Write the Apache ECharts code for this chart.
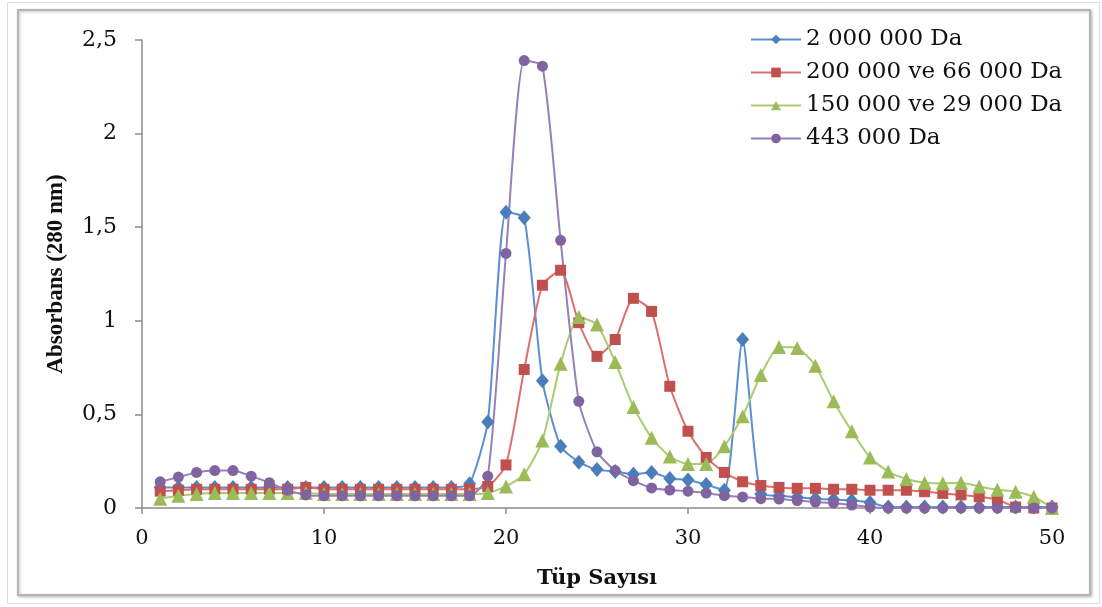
<!DOCTYPE html>
<html>
<head>
<meta charset="utf-8">
<script src="https://cdn.jsdelivr.net/npm/echarts@6/dist/echarts.min.js"></script>
<style>
  html, body { margin: 0; padding: 0; background: #fff; }
  #chart { width: 1102px; height: 607px; }
</style>
</head>
<body>
<div id="chart"></div>
<script>
// Tube numbers (x) and absorbance at 280 nm for each standard
const tubes = [1,2,3,4,5,6,7,8,9,10,11,12,13,14,15,16,17,18,19,20,21,22,23,24,25,
               26,27,28,29,30,31,32,33,34,35,36,37,38,39,40,41,42,43,44,45,46,47,48,49,50];

const da2000000 = [0.11,0.11,0.11,0.11,0.11,0.11,0.11,0.11,0.11,0.11,0.11,0.11,0.11,0.11,0.11,0.11,0.11,0.13,
                   0.46,1.58,1.55,0.68,0.33,0.245,0.205,0.195,0.18,0.19,0.158,0.15,0.125,0.095,0.90,0.075,
                   0.065,0.058,0.05,0.045,0.04,0.03,0.005,0.005,0.005,0.005,0.005,0.005,0.005,0.005,0.005,0.005];

const da200000_66000 = [0.09,0.095,0.1,0.1,0.1,0.1,0.1,0.1,0.11,0.1,0.1,0.1,0.1,0.1,0.1,0.1,0.1,0.1,
                        0.115,0.23,0.74,1.19,1.27,0.99,0.81,0.90,1.12,1.05,0.65,0.41,0.27,0.19,0.14,0.12,
                        0.11,0.105,0.105,0.1,0.1,0.095,0.095,0.095,0.087,0.078,0.07,0.06,0.045,0.005,0.0,0.0];

const da150000_29000 = [0.05,0.065,0.075,0.08,0.08,0.08,0.08,0.08,0.08,0.075,0.075,0.075,0.075,0.075,0.075,0.075,0.075,0.075,
                        0.08,0.115,0.18,0.36,0.77,1.02,0.98,0.78,0.54,0.375,0.275,0.235,0.235,0.33,0.49,0.71,
                        0.86,0.855,0.76,0.57,0.41,0.27,0.195,0.155,0.135,0.132,0.135,0.115,0.097,0.087,0.06,0.0];

const da443000 = [0.14,0.165,0.19,0.2,0.2,0.17,0.135,0.095,0.07,0.065,0.065,0.065,0.065,0.065,0.065,0.065,0.065,0.065,
                  0.17,1.36,2.39,2.36,1.43,0.57,0.30,0.2,0.146,0.107,0.096,0.09,0.08,0.066,0.059,0.05,
                  0.048,0.04,0.032,0.027,0.016,0.005,0,0,0,0,0,0,0,0,0,0];

const seriesNames = ['2 000 000 Da', '200 000 ve 66 000 Da', '150 000 ve 29 000 Da', '443 000 Da'];
const xTicks = [0, 10, 20, 30, 40, 50];
const yTicks = [0, 0.5, 1, 1.5, 2, 2.5];

const serifWide = 'DejaVu Serif';
const serif = 'Liberation Serif';

function pairs(values) {
  return tubes.map((t, i) => [t, values[i]]);
}

function lineSeries(name, values, lineColor, markColor, symbol, size) {
  return {
    name: name,
    type: 'line',
    data: pairs(values),
    smooth: 0.2,
    symbol: symbol,
    symbolSize: size,
    lineStyle: { color: lineColor, width: 2 },
    itemStyle: { color: markColor },
    emphasis: { disabled: true },
    z: 3
  };
}

const chart = echarts.init(document.getElementById('chart'), null, { renderer: 'canvas' });

chart.setOption({
  animation: false,
  backgroundColor: '#ffffff',
  graphic: [
    { type: 'rect', shape: { x: 7.5, y: 2.5, width: 1092, height: 601 },
      style: { fill: 'none', stroke: '#dcdcdc', lineWidth: 1 }, silent: true },
    { type: 'rect', shape: { x: 18, y: 10, width: 1072, height: 585 },
      style: { fill: '#ffffff', stroke: '#b5b5b5', lineWidth: 2,
               shadowColor: 'rgba(0,0,0,0.25)', shadowBlur: 3, shadowOffsetX: 1, shadowOffsetY: 1 },
      silent: true, z: -10 }
  ],
  grid: { left: 142, right: 50, top: 40, bottom: 99 },
  legend: {
    orient: 'vertical',
    left: 745,
    top: 23,
    itemWidth: 50,
    itemHeight: 12,
    itemGap: 10,
    textStyle: { fontFamily: serifWide, fontSize: 23, color: '#111' },
    data: seriesNames
  },
  xAxis: {
    type: 'value',
    min: xTicks[0],
    max: xTicks[xTicks.length - 1],
    interval: 10,
    name: 'Tüp Sayısı',
    nameLocation: 'middle',
    nameGap: 60,
    nameTextStyle: { fontFamily: serifWide, fontSize: 21, fontWeight: 'bold', color: '#111' },
    axisLine: { lineStyle: { color: '#8c8c8c', width: 1.5 } },
    axisTick: { show: true, inside: false, length: 6, lineStyle: { color: '#8c8c8c', width: 1.5 } },
    axisLabel: { fontFamily: serifWide, fontSize: 21, color: '#111', margin: 20 },
    splitLine: { show: false }
  },
  yAxis: {
    type: 'value',
    min: yTicks[0],
    max: yTicks[yTicks.length - 1],
    interval: 0.5,
    name: 'Absorbans (280 nm)',
    nameLocation: 'middle',
    nameRotate: 90,
    nameGap: 74,
    nameTextStyle: { fontFamily: serif, fontSize: 23, fontWeight: 'bold', color: '#111' },
    axisLine: { show: true, lineStyle: { color: '#8c8c8c', width: 1.5 } },
    axisTick: { show: true, inside: false, length: 7, lineStyle: { color: '#8c8c8c', width: 1.5 } },
    axisLabel: {
      fontFamily: serifWide, fontSize: 22, color: '#111', margin: 25,
      formatter: v => String(v).replace('.', ',')
    },
    splitLine: { show: false }
  },
  series: [
    lineSeries(seriesNames[0], da2000000, '#5a8fd0', '#4a7ebb', 'diamond', [13, 15]),
    lineSeries(seriesNames[1], da200000_66000, '#dc6f6b', '#c0504d', 'rect', 11),
    lineSeries(seriesNames[2], da150000_29000, '#aacb6e', '#9bbb59', 'triangle', 14),
    lineSeries(seriesNames[3], da443000, '#9580b8', '#8064a2', 'circle', 11)
  ]
});
</script>
</body>
</html>
